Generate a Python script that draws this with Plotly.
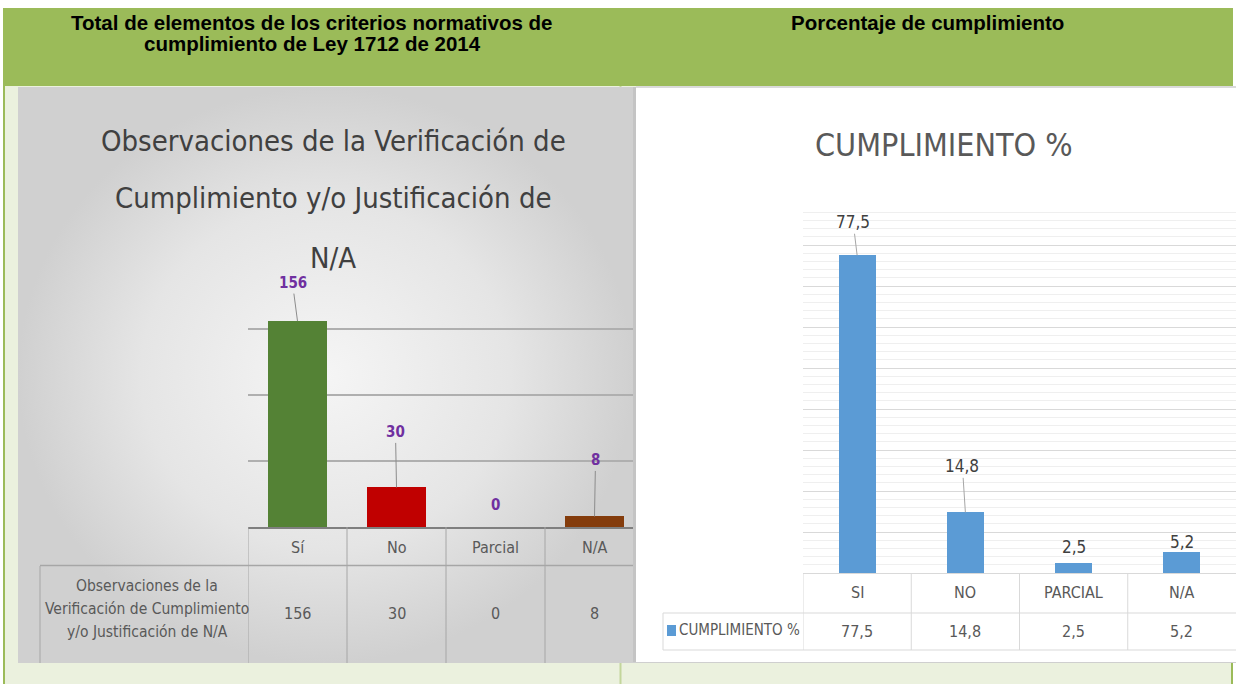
import plotly.graph_objects as go

W, H = 1236, 684

# ---- data -------------------------------------------------------------
header_left = ["Total de elementos de los criterios normativos de",
               "cumplimiento de Ley 1712 de 2014"]
header_right = "Porcentaje de cumplimiento"

obs_title = ["Observaciones de la Verificación de",
             "Cumplimiento y/o Justificación de",
             "N/A"]
obs_categories = ["Sí", "No", "Parcial", "N/A"]
obs_values = [156, 30, 0, 8]
obs_series = ["Observaciones de la", "Verificación de Cumplimiento",
              "y/o Justificación de N/A"]

pct_title = "CUMPLIMIENTO %"
pct_categories = ["SI", "NO", "PARCIAL", "N/A"]
pct_values = [77.5, 14.8, 2.5, 5.2]
pct_series = "CUMPLIMIENTO %"

# ---- style ------------------------------------------------------------
NARROW = "DejaVu Sans Condensed, DejaVu Sans, sans-serif"
ARIAL = "Liberation Sans, Arial, sans-serif"
obs_colors = ["#548235", "#C00000", "#A5A5A5", "#843C0C"]
blue = "#5B9BD5"
green_head = "#9BBB59"
green_body = "#EBF1DE"


def fx(px):
    return px / W


def fy(py):
    return 1 - py / H


def pct_text(v):
    return f"{v:.1f}".replace(".", ",")


shapes = []
annotations = []


def rect(x0, y0, x1, y1, color):
    shapes.append(dict(type="rect", xref="paper", yref="paper",
                       x0=fx(x0), x1=fx(x1), y0=fy(y0), y1=fy(y1),
                       fillcolor=color, line=dict(width=0), layer="below"))


def hline(x0, x1, y, color, width=1, xref="paper", layer="above"):
    shapes.append(dict(type="line", xref=xref, yref="paper",
                       x0=x0, x1=x1, y0=fy(y), y1=fy(y),
                       line=dict(color=color, width=width), layer=layer))


def vline(x, y0, y1, color, width=1, xref="paper", layer="above"):
    shapes.append(dict(type="line", xref=xref, yref="paper",
                       x0=x, x1=x, y0=fy(y0), y1=fy(y1),
                       line=dict(color=color, width=width), layer=layer))


def text(x, y, s, size, color, family, xref="paper", xanchor="center", **kw):
    annotations.append(dict(x=x, y=fy(y), xref=xref, yref="paper", text=s,
                            showarrow=False, xanchor=xanchor, yanchor="middle",
                            font=dict(size=size, color=color, family=family), **kw))


# ---- page frame ----------------------------------------------------------
rect(3, 8, 1233, 86, green_head)
rect(3, 86, 1233, H, green_body)
vline(fx(4), 8, H, green_head, 2, layer="below")
vline(fx(1232), 8, H, green_head, 2, layer="below")
vline(fx(620.5), 86, H, "#C3D69B", 2, layer="below")

# right panel card
rect(632, 87, 637, 663, "#C4C4C4")
rect(636, 86, 1236, 88, "#DADADA")
rect(636, 88, 1236, 662, "#FFFFFF")
hline(fx(632), fx(1236), 662.5, "#CFCFCF", 1, layer="below")

# header texts
text(fx(312), 22, "<b>" + header_left[0] + "</b>", 20.5, "#000000", ARIAL)
text(fx(312), 43, "<b>" + header_left[1] + "</b>", 20.5, "#000000", ARIAL)
text(fx(927), 22, "<b>" + header_right + "</b>", 20.5, "#000000", ARIAL)

# ---- left panel (gradient card) ----------------------------------------
panel = go.Scatter(
    x=[18, 633, 633, 18, 18], y=[87, 87, 663, 663, 87],
    xaxis="x", yaxis="y", mode="lines", line=dict(width=0),
    fill="toself", hoverinfo="skip", showlegend=False,
    fillgradient=dict(type="radial",
                      colorscale=[[0, "#F5F5F5"], [0.6, "#E5E5E5"], [1, "#D0D0D0"]]),
)

obs_bars = go.Bar(
    x=obs_categories, y=obs_values, xaxis="x2", yaxis="y2",
    marker=dict(color=obs_colors, line=dict(width=0)), width=0.6,
    showlegend=False, hoverinfo="skip",
)

pct_bars = go.Bar(
    x=pct_categories, y=pct_values, xaxis="x3", yaxis="y3",
    marker=dict(color=blue, line=dict(width=0)), width=0.34,
    showlegend=False, hoverinfo="skip",
)

# left chart title
for line, py in zip(obs_title, [141, 198, 258]):
    text(fx(333), py, line, 29, "#404040", NARROW)

# left data labels
obs_offsets = [(-5, -38), (-1, -55), None, (1, -56)]
for cat, val, off in zip(obs_categories, obs_values, obs_offsets):
    lab = f"<b>{val}</b>"
    if off is None:
        annotations.append(dict(x=cat, y=val, xref="x2", yref="y2", text=lab,
                                showarrow=False, yshift=22,
                                font=dict(size=15, color="#7030A0", family=NARROW)))
    else:
        annotations.append(dict(x=cat, y=val, xref="x2", yref="y2", text=lab,
                                showarrow=True, arrowhead=0, arrowwidth=1,
                                arrowcolor="#8C8C8C", ax=off[0], ay=off[1],
                                font=dict(size=15, color="#7030A0", family=NARROW)))

# left data table
tbl_gray = "#A6A6A6"
for i in range(len(obs_categories)):
    vline(i - 0.5, 527, 663, tbl_gray, 1, xref="x2")
hline(fx(40), fx(633), 565.5, tbl_gray, 1.5)
vline(fx(40), 566, 663, tbl_gray, 1)
for cat, val in zip(obs_categories, obs_values):
    text(cat, 547, cat, 16, "#595959", NARROW, xref="x2")
    text(cat, 613, str(val), 16, "#595959", NARROW, xref="x2")
for line, py in zip(obs_series, [586, 609, 632]):
    text(fx(147), py, line, 15.5, "#595959", NARROW)
rect(47, 578, 54, 587, blue)

# ---- right chart -----------------------------------------------------------
text(fx(944), 145, pct_title, 32, "#595959", NARROW)

pct_offsets = [(-4, -33), (-3, -46), None, None]
pct_shift = [0, 0, 16, 10]
for cat, val, off, sh in zip(pct_categories, pct_values, pct_offsets, pct_shift):
    if off is None:
        annotations.append(dict(x=cat, y=val, xref="x3", yref="y3", text=pct_text(val),
                                showarrow=False, yshift=sh,
                                font=dict(size=17, color="#404040", family=NARROW)))
    else:
        annotations.append(dict(x=cat, y=val, xref="x3", yref="y3", text=pct_text(val),
                                showarrow=True, arrowhead=0, arrowwidth=1,
                                arrowcolor="#A6A6A6", ax=off[0], ay=off[1],
                                font=dict(size=17, color="#404040", family=NARROW)))

# right data table
tbl_light = "#D9D9D9"
for i in range(len(pct_categories)):
    vline(i - 0.5, 573, 650, tbl_light, 1, xref="x3")
hline(fx(663), fx(1236), 613, tbl_light, 1)
hline(fx(663), fx(1236), 650, tbl_light, 1)
vline(fx(663), 613, 650, tbl_light, 1)
for cat, val in zip(pct_categories, pct_values):
    text(cat, 592, cat, 16, "#595959", NARROW, xref="x3")
    text(cat, 631, pct_text(val), 16, "#595959", NARROW, xref="x3")
rect(667, 625, 676, 636, blue)
text(fx(677), 630, pct_series, 15, "#595959", NARROW, xanchor="left")

fig = go.Figure([panel, obs_bars, pct_bars])

fig.update_layout(
    width=W, height=H, margin=dict(l=0, r=0, t=0, b=0),
    paper_bgcolor="#FFFFFF", plot_bgcolor="rgba(0,0,0,0)",
    showlegend=False, bargap=0,
    xaxis=dict(domain=[0, 1], range=[0, W], visible=False, fixedrange=True),
    yaxis=dict(domain=[0, 1], range=[H, 0], visible=False, fixedrange=True),
    xaxis2=dict(domain=[fx(248), fx(633)], range=[-0.5, -0.5 + 385 / 99],
                anchor="y2", type="category", showticklabels=False, ticks="",
                showgrid=False, zeroline=False, showline=True,
                linecolor="#7F7F7F", linewidth=2),
    yaxis2=dict(domain=[fy(527), fy(263)], range=[0, 200], dtick=50,
                anchor="x2", showticklabels=False, ticks="",
                showgrid=True, gridcolor="#AFAFAF", gridwidth=2, zeroline=False),
    xaxis3=dict(domain=[fx(803), 1], range=[-0.5, 3.5],
                anchor="y3", type="category", showticklabels=False, ticks="",
                showgrid=False, zeroline=False, showline=True,
                linecolor=tbl_light, linewidth=1),
    yaxis3=dict(domain=[fy(573), fy(204)], range=[0, 90], dtick=10,
                anchor="x3", showticklabels=False, ticks="",
                showgrid=True, gridcolor="#D9D9D9", gridwidth=1, zeroline=False,
                minor=dict(dtick=2, showgrid=True, gridcolor="#EFEFEF", gridwidth=1)),
    shapes=shapes,
    annotations=annotations,
)

fig.write_html("out.html")
